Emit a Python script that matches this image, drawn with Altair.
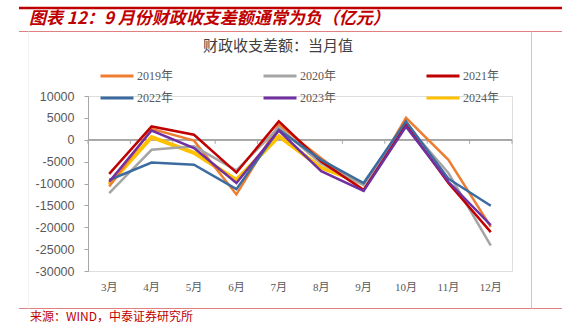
import altair as alt
import pandas as pd

months = ['3月', '4月', '5月', '6月', '7月', '8月', '9月', '10月', '11月', '12月']
years = ['2019年', '2020年', '2021年', '2022年', '2023年', '2024年']
v2019 = [-10700, 2500, -200, -12500, 3400, -4200, -11500, 5000, -4600, -19900]
v2020 = [-12200, -2300, -1500, -7000, 2800, -5500, -10400, 3600, -7600, -24200]
v2021 = [-7800, 3050, 1150, -7500, 4200, -5000, -11500, 3400, -9900, -21100]
v2022 = [-9200, -5200, -5700, -11300, 2300, -4600, -9900, 4200, -8900, -15100]
v2023 = [-9600, 2100, -1900, -9900, 2100, -7200, -11700, 3000, -9600, -19500]
v2024 = [-10200, 600, -3000, -9200, 800, -6400, -10000]
colors = ['#ED7D31', '#A5A5A5', '#C00000', '#3C6BA0', '#7030A0', '#FFC000']
y_ticks = [10000, 5000, 0, -5000, -10000, -15000, -20000, -25000, -30000]

title_text = '图表 12：9 月份财政收支差额通常为负（亿元）'
inner_title = '财政收支差额：当月值'
source_text = '来源：WIND，中泰证券研究所'

rows = []
for yr, vals in zip(years[:5], [v2019, v2020, v2021, v2022, v2023]):
    for m, v in zip(months, vals):
        rows.append({'month': m, 'year': yr, 'value': v})
df = pd.DataFrame(rows)
df24 = pd.DataFrame({'month': months[:len(v2024)], 'year': years[5], 'value': v2024})
dfm = pd.DataFrame({'month': months})

W, H = 424, 175
SERIF = 'Liberation Serif, Noto Sans CJK SC'
CJK = 'Noto Sans CJK SC'
AXIS_GRAY = '#A6A6A6'

xscale = alt.Scale(type='band', domain=months, paddingInner=0, paddingOuter=0)
yscale = alt.Scale(domain=[-30000, 10000], nice=False, zero=False)
cscale = alt.Scale(domain=years, range=colors)

yaxis = alt.Axis(values=y_ticks, labelExpr="datum.value + ''", title=None, grid=False,
                 domain=True, domainColor=AXIS_GRAY, ticks=True, tickColor=AXIS_GRAY,
                 tickSize=4, labelFont='Liberation Sans', labelFontSize=12.5,
                 labelColor='#595959', labelPadding=10, orient='left')
xaxis = alt.Axis(title=None, domain=False, ticks=False, labelAngle=0,
                 labelFont=SERIF, labelFontSize=11, labelColor='#595959',
                 labelPadding=10, grid=False, orient='bottom')

legend = alt.Legend(title=None, orient='none', legendX=22, legendY=-27, columns=3,
                    direction='horizontal',
                    symbolType='M-3,0H3', symbolSize=121, symbolStrokeWidth=3,
                    labelOffset=13, labelFont=SERIF, labelFontSize=12,
                    labelColor='#595959', columnPadding=83, rowPadding=9, padding=0)

# zero line and its ticks at month boundaries
zero_line = alt.Chart(dfm).mark_rule(color=AXIS_GRAY, strokeWidth=1).encode(
    y=alt.datum(0, scale=yscale, axis=yaxis))
zero_ticks = alt.Chart(dfm).mark_rule(color=AXIS_GRAY, strokeWidth=1).encode(
    x=alt.X('month:N', scale=xscale, sort=months, bandPosition=0, axis=xaxis),
    y=alt.datum(0, scale=yscale, axis=yaxis),
    y2=alt.datum(-920),
)
zero_end = alt.Chart(dfm.tail(1)).mark_rule(color=AXIS_GRAY, strokeWidth=1).encode(
    x=alt.X('month:N', scale=xscale, sort=months, bandPosition=1, axis=xaxis),
    y=alt.datum(0, scale=yscale, axis=yaxis),
    y2=alt.datum(-920),
)

l24 = alt.Chart(df24).mark_line(strokeWidth=4).encode(
    x=alt.X('month:N', scale=xscale, sort=months, bandPosition=0.5, axis=xaxis),
    y=alt.Y('value:Q', scale=yscale, axis=yaxis),
    color=alt.Color('year:N', scale=cscale, legend=legend),
)

lines = alt.Chart(df).mark_line(strokeWidth=2.5).encode(
    x=alt.X('month:N', scale=xscale, sort=months, bandPosition=0.5, axis=xaxis),
    y=alt.Y('value:Q', scale=yscale, axis=yaxis),
    color=alt.Color('year:N', scale=cscale, legend=legend),
)

def text_layer(txt, x, y, size, color, font, weight='normal', style='normal', align='left'):
    return alt.Chart(pd.DataFrame({'t': [txt]})).mark_text(
        align=align, baseline='middle', fontSize=size, color=color, font=font,
        fontWeight=weight, fontStyle=style
    ).encode(text='t:N', x=alt.value(x), y=alt.value(y))

def rule_layer(x1, x2, y1, y2, color, width):
    return alt.Chart(pd.DataFrame({'a': [0]})).mark_rule(color=color, strokeWidth=width).encode(
        x=alt.value(x1), x2=alt.value(x2), y=alt.value(y1), y2=alt.value(y2))

ox, oy = 88, 96
deco = [
    rule_layer(19 - ox, 562 - ox, 8 - oy, 8 - oy, '#C00000', 2.5),
    rule_layer(19 - ox, 562 - ox, 31.5 - oy, 31.5 - oy, '#E08080', 1),
    rule_layer(19 - ox, 562 - ox, 308.5 - oy, 308.5 - oy, '#E08080', 1),
    rule_layer(531.5 - ox, 531.5 - ox, 31.5 - oy, 308.5 - oy, '#C8C8C8', 1),
    rule_layer(28.5 - ox, 28.5 - ox, 31.5 - oy, 308.5 - oy, '#F2F2F2', 1),
    text_layer(title_text, 29 - ox, 19 - oy, 17, '#C00000', CJK, weight='bold', style='italic'),
    text_layer(inner_title, 278 - ox, 46 - oy, 15, '#404040', CJK, align='center'),
    text_layer(source_text, 30 - ox, 317 - oy, 12, '#C00000', CJK),
]

chart = alt.layer(*deco, zero_line, zero_ticks, zero_end, l24, lines).properties(
    width=W, height=H,
    autosize=alt.AutoSizeParams(type='none'),
    padding={'left': ox, 'top': oy, 'right': 562 - ox - W, 'bottom': 327 - oy - H},
).configure_view(stroke=None).configure(background='white')

chart.save('out.html', embed_options={'renderer': 'svg', 'actions': False})
